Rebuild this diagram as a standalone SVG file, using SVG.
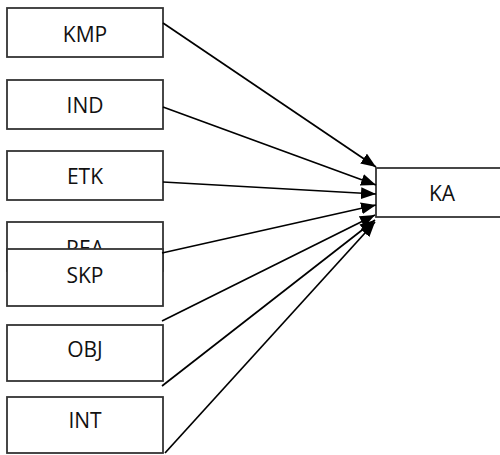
<svg xmlns="http://www.w3.org/2000/svg" width="500" height="455" viewBox="0 0 500 455">
  <style>
    .box { fill: #ffffff; stroke: #333333; stroke-width: 1.8; }
    .lbl { font-family: "Open Sans", "Liberation Sans", sans-serif; font-size: 21px; fill: #111111; text-anchor: middle; }
    .edge { stroke: #000000; stroke-width: 1.7; fill: none; marker-end: url(#arrow); }
  </style>
  <defs>
    <marker id="arrow" markerUnits="userSpaceOnUse" markerWidth="15" markerHeight="12" viewBox="0 0 15 12" refX="15" refY="6" orient="auto">
      <path d="M0,0 L15,6 L0,12 z" fill="#000000"/>
    </marker>
  </defs>

  <rect width="500" height="455" fill="#ffffff"/>

  <!-- predictor boxes -->
  <g id="kmp">
    <rect class="box" x="7" y="8" width="156" height="49"/>
    <text class="lbl" x="85" y="42">KMP</text>
  </g>
  <g id="ind">
    <rect class="box" x="7" y="80" width="156" height="49"/>
    <text class="lbl" x="85" y="113">IND</text>
  </g>
  <g id="etk">
    <rect class="box" x="7" y="151" width="156" height="49"/>
    <text class="lbl" x="85" y="184">ETK</text>
  </g>
  <!-- REA sits underneath SKP; the SKP box covers its lower half -->
  <g id="rea">
    <rect class="box" x="7" y="222" width="156" height="49"/>
    <text class="lbl" x="85" y="256">REA</text>
  </g>
  <g id="skp">
    <rect class="box" x="7" y="249" width="156" height="57"/>
    <text class="lbl" x="85" y="283">SKP</text>
  </g>
  <g id="obj">
    <rect class="box" x="7" y="325" width="156" height="56"/>
    <text class="lbl" x="85" y="357">OBJ</text>
  </g>
  <g id="int">
    <rect class="box" x="7" y="397" width="156" height="56"/>
    <text class="lbl" x="85" y="428">INT</text>
  </g>

  <!-- outcome box -->
  <g id="ka">
    <rect class="box" x="376" y="168" width="130" height="49"/>
    <text class="lbl" x="442" y="201">KA</text>
  </g>

  <!-- connectors -->
  <g id="edges">
    <line class="edge" x1="163" y1="23" x2="376" y2="167"/>
    <line class="edge" x1="163" y1="107" x2="376" y2="185"/>
    <line class="edge" x1="163" y1="182" x2="376" y2="194"/>
    <line class="edge" x1="162" y1="253" x2="376" y2="205"/>
    <line class="edge" x1="162" y1="321" x2="375" y2="215"/>
    <line class="edge" x1="162" y1="386" x2="375" y2="220"/>
    <line class="edge" x1="165" y1="453" x2="375" y2="222"/>
  </g>
</svg>
